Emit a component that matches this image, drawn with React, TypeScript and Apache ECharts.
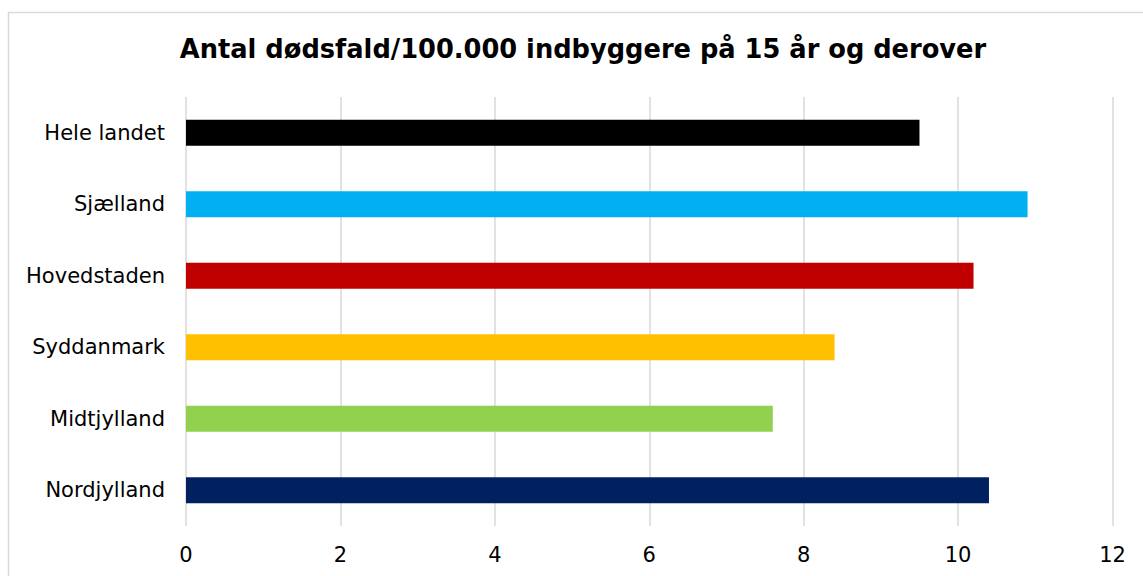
import React, { useEffect, useRef } from "react";
import * as echarts from "echarts";

const categories = ["Hele landet", "Sjælland", "Hovedstaden", "Syddanmark", "Midtjylland", "Nordjylland"];
const values = [9.5, 10.9, 10.2, 8.4, 7.6, 10.4];
const colors = ["#000000", "#00b0f0", "#c00000", "#ffc000", "#92d050", "#002060"];
const titleText = "Antal dødsfald/100.000 indbyggere på 15 år og derover";

export default function App() {
  const ref = useRef<HTMLDivElement>(null);
  useEffect(() => {
    document.body.style.margin = "0";
    document.body.style.overflow = "hidden";
    const chart = echarts.init(ref.current!, undefined, { renderer: "svg" });
    const font = "DejaVu Sans, Verdana, sans-serif";
    chart.setOption({
      animation: false,
      backgroundColor: "#ffffff",
      title: {
        text: titleText,
        left: 578,
        top: 31,
        textAlign: "center",
        textStyle: { fontFamily: font, fontSize: 25.7, fontWeight: "bold", color: "#000" },
      },
      graphic: [
        {
          type: "rect",
          shape: { x: 8.5, y: 12.5, width: 1300, height: 800 },
          style: { fill: "none", stroke: "#d9d9d9", lineWidth: 1.5 },
          silent: true,
          z: -1,
        },
      ],
      grid: { left: 186, right: 30.5, top: 97, bottom: 50, containLabel: false },
      xAxis: {
        type: "value",
        min: 0,
        max: 12,
        interval: 2,
        axisLine: { show: false },
        axisTick: { show: false },
        splitLine: { show: true, lineStyle: { color: "#d9d9d9", width: 1.5 } },
        axisLabel: { fontFamily: font, fontSize: 21, color: "#000", margin: 18 },
      },
      yAxis: {
        type: "category",
        data: categories,
        inverse: true,
        axisLine: { show: false },
        axisTick: { show: false },
        splitLine: { show: false },
        axisLabel: { fontFamily: font, fontSize: 21, color: "#000", margin: 21 },
      },
      series: [
        {
          type: "bar",
          barWidth: 26,
          data: values.map((v, i) => ({ value: v, itemStyle: { color: colors[i] } })),
        },
      ],
    });
    return () => chart.dispose();
  }, []);
  return <div ref={ref} style={{ width: 1143, height: 576 }} />;
}
